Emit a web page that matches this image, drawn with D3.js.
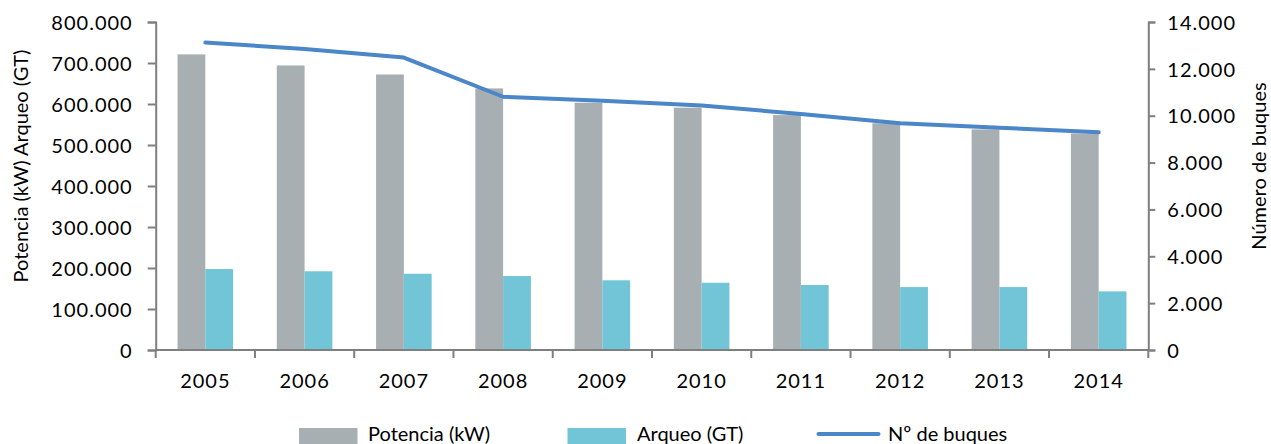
<!DOCTYPE html>
<html>
<head>
<meta charset="utf-8">
<script src="https://cdn.jsdelivr.net/npm/d3@7"></script>
<style>
  html, body { margin: 0; padding: 0; background: #fff; }
  svg { display: block; }
  text { font-family: Lato, "Open Sans", sans-serif; fill: #000; }
</style>
</head>
<body>
<svg id="chart" width="1271" height="444"></svg>
<script>
// ---- data ----
const years = ["2005","2006","2007","2008","2009","2010","2011","2012","2013","2014"];
const potencia = [721000, 694000, 672000, 638000, 603000, 591000, 573000, 553000, 538000, 528000];
const arqueo = [197500, 192000, 186000, 180500, 170000, 164000, 158500, 153500, 153500, 143000];
const buques = [13120, 12850, 12480, 10810, 10640, 10440, 10070, 9680, 9490, 9290];
const leftTicks = [0, 100000, 200000, 300000, 400000, 500000, 600000, 700000, 800000];
const rightTicks = [0, 2000, 4000, 6000, 8000, 10000, 12000, 14000];
const seriesNames = ["Potencia (kW)", "Arqueo (GT)", "Nº de buques"];
const leftTitle = "Potencia (kW) Arqueo (GT)";
const rightTitle = "Número de buques";

// ---- layout ----
const X0 = 155.7, X1 = 1148.3, Y0 = 350, Y1 = 22;
const colors = { pot: "#a8afb2", arq: "#72c5d6", line: "#4a86c8", axis: "#7f7f7f" };

const loc = d3.formatLocale({ decimal: ",", thousands: ".", grouping: [3], currency: ["", ""] });
const fmt = loc.format(",.0f");

const svg = d3.select("#chart");

const x = d3.scaleBand().domain(years).range([X0, X1]).padding(0);
const bw = x.bandwidth();
const xInner = d3.scaleBand().domain(["pot", "arq"]).range([0.22 * bw, 0.78 * bw]).padding(0);
const yL = d3.scaleLinear().domain([0, 800000]).range([Y0, Y1]);
const yR = d3.scaleLinear().domain([0, 14000]).range([Y0, Y1]);

// bars
const g = svg.append("g");
g.selectAll("rect.pot").data(years).join("rect")
  .attr("x", (d) => x(d) + xInner("pot"))
  .attr("width", xInner.bandwidth())
  .attr("y", (d, i) => yL(potencia[i]))
  .attr("height", (d, i) => Y0 - yL(potencia[i]))
  .attr("fill", colors.pot);
g.selectAll("rect.arq").data(years).join("rect")
  .attr("x", (d) => x(d) + xInner("arq"))
  .attr("width", xInner.bandwidth())
  .attr("y", (d, i) => yL(arqueo[i]))
  .attr("height", (d, i) => Y0 - yL(arqueo[i]))
  .attr("fill", colors.arq);

// line
const line = d3.line()
  .x((d, i) => x(years[i]) + bw / 2)
  .y((d) => yR(d));
svg.append("path").datum(buques)
  .attr("d", line)
  .attr("fill", "none")
  .attr("stroke", colors.line)
  .attr("stroke-width", 4)
  .attr("stroke-linejoin", "round")
  .attr("stroke-linecap", "round");

// axes
function styleAxis(sel) {
  sel.select(".domain").attr("stroke", colors.axis).attr("stroke-width", 2);
  sel.selectAll(".tick line").attr("stroke", colors.axis).attr("stroke-width", 2);
  sel.selectAll("text").attr("font-size", 20).attr("letter-spacing", "1px")
    .attr("font-family", "Lato, sans-serif").attr("fill", "#000");
}

const axL = svg.append("g").attr("transform", `translate(${X0},0)`)
  .call(d3.axisLeft(yL).tickValues(leftTicks).tickFormat(fmt).tickSize(8).tickSizeOuter(8).tickPadding(15));
styleAxis(axL);
axL.selectAll("text").attr("dy", "0.36em");

const axR = svg.append("g").attr("transform", `translate(${X1},0)`)
  .call(d3.axisRight(yR).tickValues(rightTicks).tickFormat(fmt).tickSize(7).tickSizeOuter(7).tickPadding(12));
styleAxis(axR);
axR.selectAll("text").attr("dy", "0.36em");

// bottom axis: ticks at band boundaries
const axB = svg.append("g").attr("transform", `translate(0,${Y0})`);
axB.append("line").attr("x1", X0).attr("x2", X1).attr("y1", 0).attr("y2", 0)
  .attr("stroke", colors.axis).attr("stroke-width", 2);
const bounds = years.map((d) => x(d)).concat([X1]);
axB.selectAll("line.tk").data(bounds).join("line")
  .attr("x1", (d) => d).attr("x2", (d) => d).attr("y1", 0).attr("y2", 8)
  .attr("stroke", colors.axis).attr("stroke-width", 2);
axB.selectAll("text").data(years).join("text")
  .attr("x", (d) => x(d) + bw / 2)
  .attr("y", 38)
  .attr("text-anchor", "middle")
  .attr("font-size", 20)
  .attr("letter-spacing", "1px")
  .text((d) => d);

// axis titles
svg.append("text")
  .attr("transform", `translate(28,166) rotate(-90)`)
  .attr("text-anchor", "middle")
  .attr("font-size", 20)
  .text(leftTitle);
svg.append("text")
  .attr("transform", `translate(1266,166) rotate(-90)`)
  .attr("text-anchor", "middle")
  .attr("font-size", 20)
  .text(rightTitle);

// legend
const lg = svg.append("g");
const legendItems = [
  { name: seriesNames[0], type: "rect", color: colors.pot, sx: 299, tx: 368 },
  { name: seriesNames[1], type: "rect", color: colors.arq, sx: 567.5, tx: 637 },
  { name: seriesNames[2], type: "line", color: colors.line, sx: 817.5, tx: 888 }
];
legendItems.forEach((it) => {
  if (it.type === "rect") {
    lg.append("rect").attr("x", it.sx).attr("y", 428).attr("width", 58.5).attr("height", 16).attr("fill", it.color);
  } else {
    lg.append("line").attr("x1", it.sx + 1).attr("x2", it.sx + 61).attr("y1", 434).attr("y2", 434)
      .attr("stroke", it.color).attr("stroke-width", 4).attr("stroke-linecap", "round");
  }
  lg.append("text").attr("x", it.tx).attr("y", 441).attr("font-size", 20).text(it.name);
});
</script>
</body>
</html>
